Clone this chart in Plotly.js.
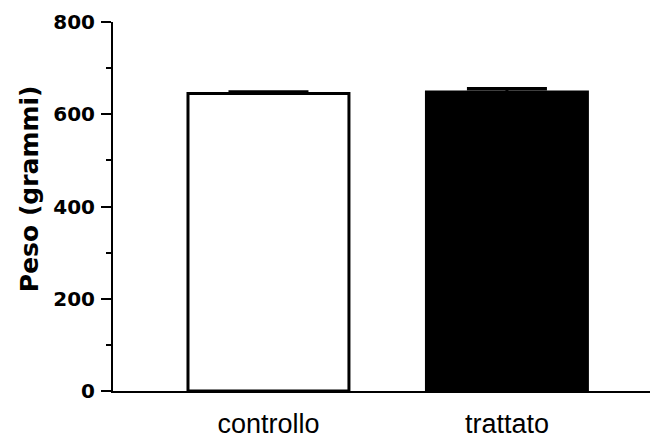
<!DOCTYPE html>
<html>
<head>
<meta charset="utf-8">
<script src="https://cdn.plot.ly/plotly-3.0.1.min.js"></script>
<style>html,body{margin:0;padding:0;background:#fff;}#chart{width:650px;height:440px;}</style>
</head>
<body>
<div id="chart"></div>
<script>
const categories = ['controllo', 'trattato'];
const means = [645, 648];
const errUp = [4, 8];
const fillColors = ['#ffffff', '#000000'];
const yTicks = [0, 200, 400, 600, 800];
const yMinorTicks = [100, 300, 500, 700];
const yTitle = 'Peso (grammi)';

const trace = {
  type: 'bar',
  x: categories,
  y: means,
  width: 0.675,
  marker: { color: fillColors, line: { color: '#000000', width: 3 } },
  error_y: { type: 'data', symmetric: false, array: errUp, arrayminus: [0, 0], color: '#000000', thickness: 3, width: 40 },
  hoverinfo: 'none'
};

const layout = {
  width: 650, height: 440,
  margin: { l: 113, r: 0, t: 22, b: 49 },
  paper_bgcolor: '#ffffff', plot_bgcolor: '#ffffff',
  showlegend: false,
  font: { family: 'Liberation Sans, Arial, sans-serif', color: '#000000' },
  xaxis: {
    type: 'category',
    range: [-0.652, 1.6],
    showline: true, linecolor: '#000000', linewidth: 2,
    ticks: '', showgrid: false, zeroline: false,
    tickfont: { size: 27, family: 'Liberation Sans, Arial, sans-serif' },
    ticklabelstandoff: 8
  },
  yaxis: {
    range: [0, 800],
    tickvals: yTicks,
    showline: true, linecolor: '#000000', linewidth: 2,
    ticks: 'outside', ticklen: 10, tickwidth: 2, tickcolor: '#000000',
    minor: { tickvals: yMinorTicks, ticks: 'outside', ticklen: 5, tickwidth: 2, tickcolor: '#000000', showgrid: false },
    showgrid: false, zeroline: false,
    tickfont: { size: 20, weight: 'bold', family: 'DejaVu Sans, sans-serif' },
    ticklabelstandoff: 2
  },
  annotations: [{
    text: yTitle,
    xref: 'paper', yref: 'paper',
    x: 0, y: 0.547, xanchor: 'center', yanchor: 'middle', xshift: -84,
    textangle: -90, showarrow: false,
    font: { size: 25, weight: 'bold', family: 'DejaVu Sans, sans-serif', color: '#000000' }
  }]
};

Plotly.newPlot('chart', [trace], layout, { displayModeBar: false, staticPlot: true });
</script>
</body>
</html>
